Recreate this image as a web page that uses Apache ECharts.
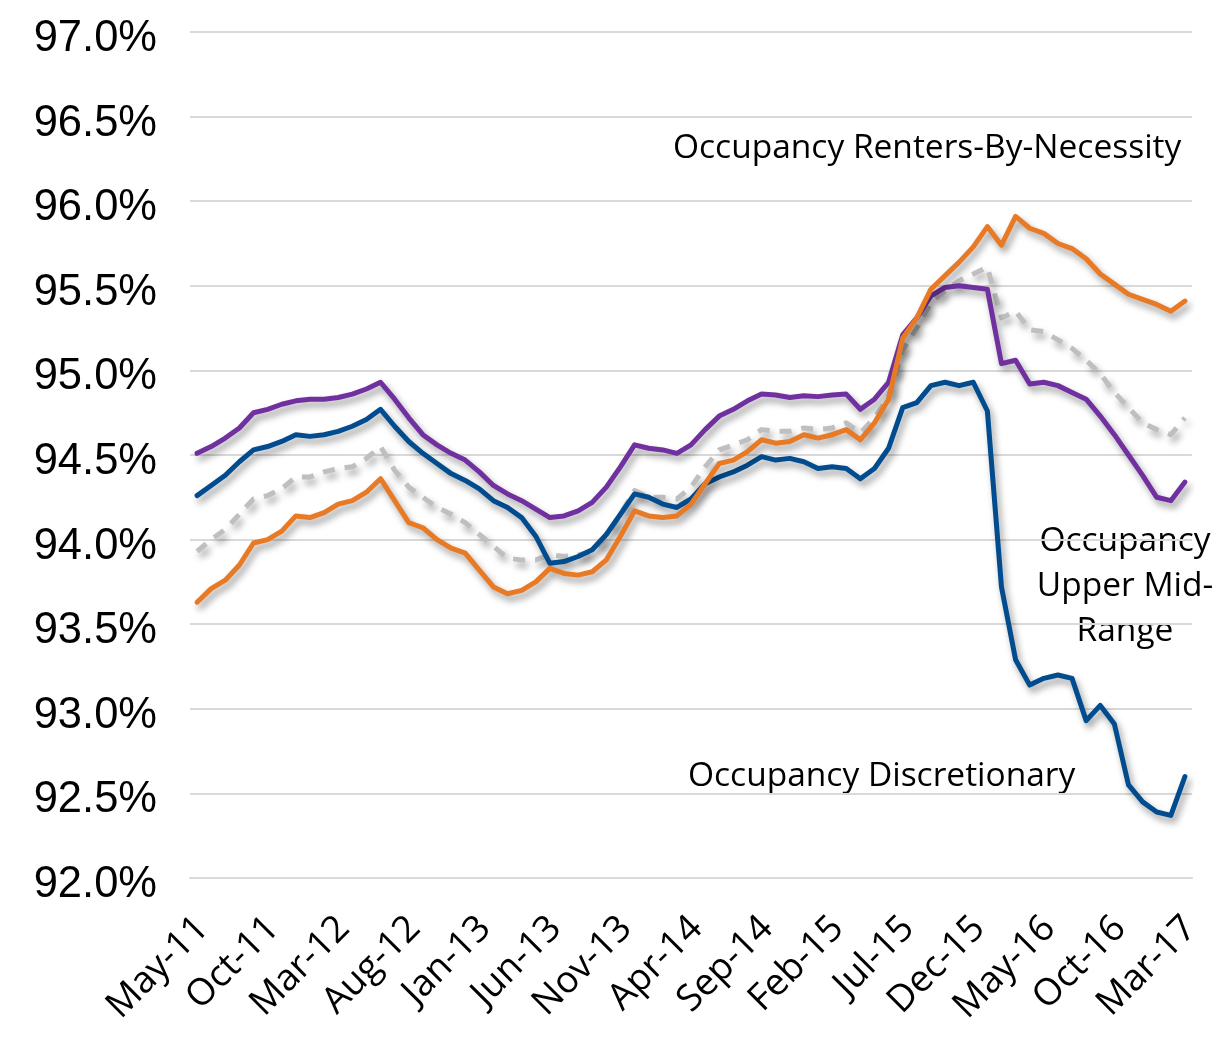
<!DOCTYPE html>
<html>
<head>
<meta charset="utf-8">
<script src="https://cdn.jsdelivr.net/npm/echarts@6/dist/echarts.min.js"></script>
<style>
html,body{margin:0;padding:0;background:#fff;}
#chart{width:1230px;height:1038px;}
</style>
</head>
<body>
<div id="chart"></div>
<script>
const months = ['Jan','Feb','Mar','Apr','May','Jun','Jul','Aug','Sep','Oct','Nov','Dec'];
const categories = [];
for (let k = 0; k < 71; k++) {
  const m = (4 + k) % 12;
  const y = 11 + Math.floor((4 + k) / 12);
  categories.push(months[m] + '-' + y);
}

const upperMidRange = [
  94.51, 94.55, 94.60, 94.66, 94.75, 94.77, 94.80, 94.82, 94.83, 94.83,
  94.84, 94.86, 94.89, 94.93, 94.83, 94.72, 94.62, 94.56, 94.51, 94.47,
  94.40, 94.32, 94.27, 94.23, 94.18, 94.13, 94.14, 94.17, 94.22, 94.31,
  94.43, 94.56, 94.54, 94.53, 94.51, 94.56, 94.65, 94.73, 94.77, 94.82,
  94.86, 94.855, 94.84, 94.85, 94.845, 94.855, 94.86, 94.77, 94.83, 94.93,
  95.21, 95.31, 95.44, 95.49, 95.50, 95.49, 95.48, 95.04, 95.06, 94.92,
  94.93, 94.91, 94.87, 94.83, 94.73, 94.62, 94.50, 94.38, 94.25, 94.23,
  94.34
];

const discretionary = [
  94.26, 94.32, 94.38, 94.46, 94.53, 94.55, 94.58, 94.62, 94.61, 94.62,
  94.64, 94.67, 94.71, 94.77, 94.67, 94.58, 94.51, 94.45, 94.39, 94.35,
  94.30, 94.23, 94.19, 94.13, 94.02, 93.86, 93.87, 93.90, 93.94, 94.03,
  94.15, 94.27, 94.25, 94.21, 94.19, 94.24, 94.33, 94.37, 94.40, 94.44,
  94.49, 94.47, 94.48, 94.46, 94.42, 94.43, 94.42, 94.36, 94.42, 94.54,
  94.78, 94.81, 94.91, 94.93, 94.91, 94.93, 94.76, 93.72, 93.29, 93.14,
  93.18, 93.20, 93.18, 92.93, 93.02, 92.91, 92.55, 92.45, 92.39, 92.37,
  92.60
];

const rentersByNecessity = [
  93.63, 93.71, 93.76, 93.85, 93.98, 94.00, 94.05, 94.14, 94.13, 94.16,
  94.21, 94.23, 94.28, 94.36, 94.23, 94.10, 94.07, 94.00, 93.95, 93.92,
  93.82, 93.72, 93.68, 93.70, 93.75, 93.83, 93.80, 93.79, 93.81, 93.88,
  94.02, 94.17, 94.14, 94.13, 94.14, 94.21, 94.33, 94.45, 94.47, 94.52,
  94.59, 94.57, 94.58, 94.62, 94.60, 94.62, 94.65, 94.59, 94.69, 94.83,
  95.19, 95.31, 95.48, 95.56, 95.64, 95.73, 95.85, 95.74, 95.91, 95.84,
  95.81, 95.75, 95.72, 95.66, 95.57, 95.51, 95.45, 95.42, 95.39, 95.35,
  95.41
];

const overall = [
  93.93, 94.00, 94.06, 94.15, 94.24, 94.26, 94.30, 94.37, 94.37, 94.40,
  94.42, 94.43, 94.48, 94.55, 94.41, 94.31, 94.25, 94.19, 94.15, 94.10,
  94.03, 93.96, 93.89, 93.88, 93.88, 93.91, 93.90, 93.91, 93.93, 94.01,
  94.15, 94.29, 94.25, 94.25, 94.24, 94.31, 94.43, 94.53, 94.56, 94.59,
  94.65, 94.64, 94.64, 94.66, 94.65, 94.66, 94.69, 94.63, 94.72, 94.84,
  95.12, 95.25, 95.40, 95.47, 95.53, 95.57, 95.61, 95.31, 95.35, 95.24,
  95.23, 95.18, 95.13, 95.06, 94.98, 94.87, 94.78, 94.69, 94.65, 94.62,
  94.72
];

const shadow = {shadowColor:'rgba(0,0,0,0.4)', shadowBlur:7, shadowOffsetX:3, shadowOffsetY:5};
function mkLine(name, data, color, extra) {
  return {
    name: name, type:'line', data: data, symbol:'none', smooth:false,
    lineStyle: Object.assign({color: color, width: 5, join:'round', cap:'round'}, shadow, extra || {}),
    itemStyle: {color: color},
    z: 2
  };
}

const chart = echarts.init(document.getElementById('chart'), null, {renderer:'canvas'});
const labelFont = '"Open Sans", "Noto Sans", sans-serif';
const annFont = '33.5px "Open Sans", sans-serif';
chart.setOption({
  animation: false,
  backgroundColor: '#ffffff',
  grid: {left: 190, right: 38, top: 32, bottom: 160, containLabel: false},
  xAxis: {
    type: 'category',
    data: categories,
    boundaryGap: true,
    axisLine: {show: true, lineStyle: {color: '#D9D9D9', width: 2}},
    axisTick: {show: false},
    axisLabel: {
      interval: 4, rotate: 45, margin: 39,
      align: 'right', verticalAlign: 'top', lineHeight: 16,
      fontFamily: labelFont, fontSize: 37, color: '#000'
    }
  },
  yAxis: {
    type: 'value', min: 92, max: 97, interval: 0.5,
    axisLine: {show: false}, axisTick: {show: false},
    splitLine: {lineStyle: {color: '#D9D9D9', width: 2}},
    axisLabel: {
      formatter: v => v.toFixed(1) + '%',
      fontFamily: '"Liberation Sans", Arial, sans-serif',
      fontSize: 43.5, color: '#000', margin: 33,
      verticalAlign: 'top', lineHeight: 14
    }
  },
  series: [
    mkLine('Occupancy Total', overall, '#BFBFBF', {type: [12, 10], cap: 'butt'}),
    mkLine('Occupancy Discretionary', discretionary, '#004C8F'),
    mkLine('Occupancy Upper Mid-Range', upperMidRange, '#7030A0'),
    mkLine('Occupancy Renters-By-Necessity', rentersByNecessity, '#E87A26')
  ],
  graphic: [
    {type:'text', x: 673, y: 148, style:{text:'Occupancy Renters-By-Necessity', font: annFont, fill:'#000', textAlign:'left', textVerticalAlign:'middle', verticalAlign:'middle'}},
    {type:'text', x: 1125, y: 586, style:{text:'Occupancy\nUpper Mid-\nRange', font: annFont, fill:'#000', textAlign:'center', align:'center', textVerticalAlign:'middle', verticalAlign:'middle', lineHeight: 45}},
    {type:'text', x: 688, y: 776, style:{text:'Occupancy Discretionary', font: annFont, fill:'#000', textAlign:'left', textVerticalAlign:'middle', verticalAlign:'middle'}}
  ]
});
</script>
</body>
</html>
